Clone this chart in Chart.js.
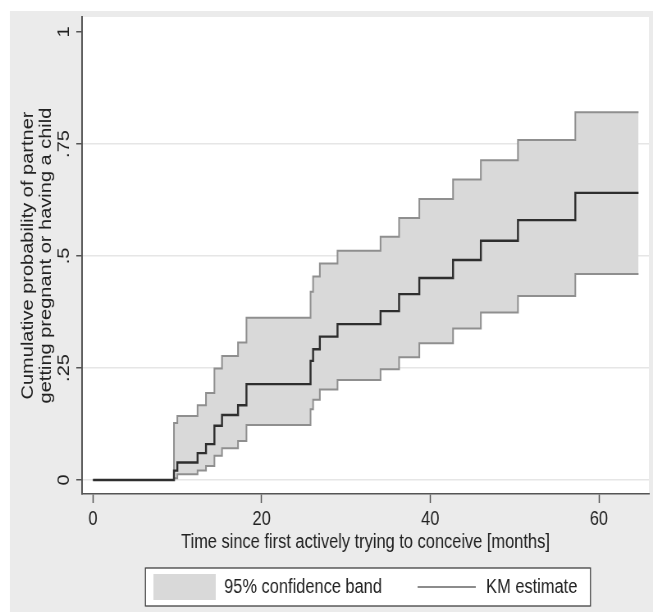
<!DOCTYPE html>
<html>
<head>
<meta charset="utf-8">
<script src="https://cdn.jsdelivr.net/npm/chart.js@4.4.1/dist/chart.umd.min.js"></script>
<style>
  html, body { margin: 0; padding: 0; background: #fff; overflow: hidden; }
</style>
</head>
<body>
<canvas id="chart" width="796" height="612" style="display:block;width:653px;height:612px"></canvas>
<script>
// Kaplan-Meier curve (time to pregnancy) with its 95% band.
// The canvas is drawn 796 wide and shown at 653px, which squeezes it
// horizontally the same way the original Stata export was squeezed.

const months = [0, 9.6, 10.0, 12.4, 13.4, 14.4, 15.3, 17.2, 18.2, 25.8, 26.1, 26.9, 29.0, 34.1, 36.3, 38.7, 42.7, 46.0, 50.4, 57.2, 64.7];
const kmEstimate = [0, 0.021, 0.039, 0.060, 0.080, 0.121, 0.145, 0.167, 0.214, 0.266, 0.292, 0.320, 0.348, 0.377, 0.415, 0.451, 0.491, 0.534, 0.580, 0.641, 0.641];
const ciUpper = [0, 0.127, 0.143, 0.167, 0.194, 0.249, 0.277, 0.307, 0.362, 0.420, 0.454, 0.483, 0.512, 0.543, 0.585, 0.627, 0.671, 0.714, 0.759, 0.821, 0.821];
const ciLower = [0, 0.004, 0.013, 0.021, 0.031, 0.054, 0.071, 0.087, 0.123, 0.158, 0.179, 0.202, 0.223, 0.247, 0.274, 0.305, 0.338, 0.374, 0.411, 0.460, 0.460];

const xTicks = [0, 20, 40, 60];
const yTicks = [0, 0.25, 0.5, 0.75, 1];
const yTickLabels = ["0", ".25", ".5", ".75", "1"];
const legendLabels = ["95% confidence band", "KM estimate"];
const xTitle = "Time since first actively trying to conceive [months]";
const yTitle = ["Cumulative probability of partner", "getting pregnant or having a child"];

const FONT = "'Liberation Sans', Arial, sans-serif";
const TEXT = "#222";
const AXIS = "#555";

function toPoints(values) {
  return months.map((m, i) => ({ x: m, y: values[i] }));
}

function makeSwatch(w, h, color) {
  const c = document.createElement("canvas");
  c.width = w;
  c.height = h;
  const g = c.getContext("2d");
  g.fillStyle = color;
  g.fillRect(0, 0, w, h);
  return c;
}

const bandSwatch = makeSwatch(76, 26, "#d9d9d9");
const lineSwatch = makeSwatch(71, 2, "#8c8c8c");

// where the framed legend box sits, worked out from the legend's own layout
function legendFrame(chart) {
  const lg = chart.legend;
  const pad = lg.options.labels.padding;
  const startX = (lg.left + pad + lg.right - lg.lineWidths[0]) / 2;
  const endX = startX + lg.lineWidths[0] - pad;
  const cy = lg.top + pad + 10;
  return { x: startX - 10, y: cy - 19, w: endX - startX + 26, h: 38 };
}

const backdrop = {
  id: "backdrop",
  beforeDraw(chart) {
    const { ctx, chartArea: a } = chart;
    ctx.save();
    ctx.fillStyle = "#ebebeb";
    ctx.fillRect(12, 11, chart.width - 12, chart.height - 11);
    ctx.fillStyle = "#fff";
    ctx.fillRect(a.left, a.top, a.right - a.left, a.bottom - a.top);
    const f = legendFrame(chart);
    ctx.fillRect(f.x, f.y, f.w, f.h);
    ctx.strokeStyle = "#333";
    ctx.lineWidth = 1.2;
    ctx.strokeRect(f.x, f.y, f.w, f.h);
    ctx.restore();
  },
};

new Chart(document.getElementById("chart"), {
  type: "line",
  data: {
    datasets: [
      {
        label: "KM estimate",
        data: toPoints(kmEstimate),
        stepped: true,
        borderColor: "#2e2e2e",
        borderWidth: 2.4,
        pointRadius: 0,
        fill: false,
      },
      {
        label: "upper",
        data: toPoints(ciUpper),
        stepped: true,
        borderColor: "#8f8f8f",
        borderWidth: 2,
        pointRadius: 0,
        backgroundColor: "#d9d9d9",
        fill: "+1",
      },
      {
        label: "lower",
        data: toPoints(ciLower),
        stepped: true,
        borderColor: "#8f8f8f",
        borderWidth: 2,
        pointRadius: 0,
        fill: false,
      },
    ],
  },
  options: {
    responsive: false,
    animation: false,
    layout: { padding: { top: 17, right: 5, bottom: 5, left: 12 } },
    plugins: {
      filler: { drawTime: "beforeDatasetsDraw" },
      tooltip: { enabled: false },
      legend: {
        position: "bottom",
        fullSize: false,
        onClick: null,
        labels: {
          usePointStyle: true,
          pointStyleWidth: 76,
          padding: 41,
          color: TEXT,
          font: { family: FONT, size: 20 },
          generateLabels: () => [
            { text: legendLabels[0], pointStyle: bandSwatch, fontColor: TEXT, lineWidth: 0, hidden: false },
            { text: legendLabels[1], pointStyle: lineSwatch, fontColor: TEXT, lineWidth: 0, hidden: false },
          ],
        },
      },
    },
    scales: {
      x: {
        type: "linear",
        min: -1.3,
        max: 65.93,
        afterBuildTicks: (s) => { s.ticks = xTicks.map((v) => ({ value: v })); },
        afterFit: (s) => { s.height = 42; },
        ticks: { color: TEXT, font: { family: FONT, size: 20 }, padding: 4, autoSkip: false, maxRotation: 0 },
        grid: { drawOnChartArea: false, tickLength: 9, tickColor: AXIS, tickWidth: 1.5 },
        border: { color: AXIS, width: 1.5 },
        title: {
          display: true,
          text: xTitle,
          color: TEXT,
          font: { family: FONT, size: 20, lineHeight: 1 },
          padding: { top: 0, bottom: -16 },
        },
      },
      y: {
        type: "linear",
        min: -0.03125,
        max: 1.0335,
        afterBuildTicks: (s) => { s.ticks = yTicks.map((v) => ({ value: v })); },
        afterFit: (s) => { s.width = 88; },
        ticks: {
          callback: (v, i) => yTickLabels[i],
          color: TEXT,
          font: { family: FONT, size: 20 },
          minRotation: 90,
          maxRotation: 90,
          crossAlign: "center",
          padding: 1,
          autoSkip: false,
        },
        grid: {
          color: (c) => (c.tick && c.tick.value === 1 ? "rgba(0,0,0,0)" : "#e6e6e6"),
          lineWidth: 1.5,
          tickColor: AXIS,
          tickLength: 7,
          tickWidth: 1.5,
        },
        border: { color: AXIS, width: 2 },
        title: {
          display: true,
          text: yTitle,
          color: TEXT,
          font: { family: FONT, size: 20, lineHeight: 1.1 },
          padding: { top: 11, bottom: 0 },
        },
      },
    },
  },
  plugins: [backdrop],
});
</script>
</body>
</html>
